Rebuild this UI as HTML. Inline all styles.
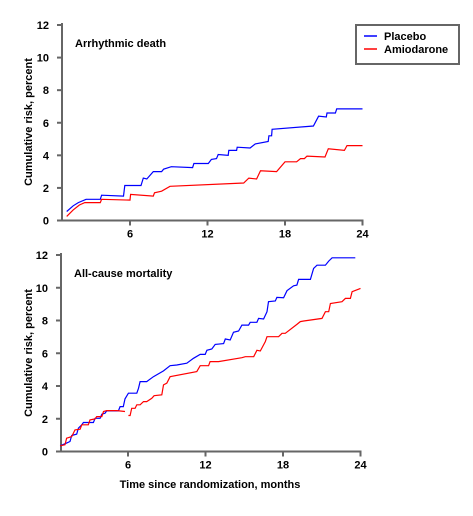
<!DOCTYPE html>
<html><head><meta charset="utf-8"><style>
body{margin:0;background:#fff}
svg text{font-family:"Liberation Sans",sans-serif;font-weight:bold;font-size:11px;fill:#000}
</style></head><body>
<svg id="c" width="473" height="511" xmlns="http://www.w3.org/2000/svg"></svg>
<script>
const xTicks=[6,12,18,24];
const yTicks=[0,2,4,6,8,10,12];
const arrPlaceboMonths=[1.1,1.6,2.0,2.6,3.7,3.8,5.5,5.6,6.85,7.03,7.3,7.8,8.45,8.6,9.2,10.85,10.95,12.06,12.3,12.7,12.83,13.6,13.65,14.25,14.3,15.3,15.7,16.7,16.75,16.96,17.0,20.2,20.6,21.2,21.25,21.9,22.0,24.0];
const arrPlaceboValues=[0.55,0.9,1.1,1.3,1.3,1.55,1.5,2.15,2.15,2.6,2.55,3.0,3.0,3.15,3.3,3.25,3.5,3.5,3.75,3.8,4.05,4.0,4.3,4.3,4.5,4.45,4.7,4.85,5.2,5.2,5.6,5.8,6.4,6.35,6.6,6.6,6.85,6.85];
const arrAmioMonths=[1.1,1.6,2.08,2.5,3.7,3.8,6.0,6.05,7.8,7.9,8.45,9.1,14.8,15.2,15.8,16.1,17.35,18.0,18.9,19.2,19.5,19.7,21.1,21.35,22.6,22.8,24.0];
const arrAmioValues=[0.25,0.65,0.95,1.1,1.1,1.3,1.25,1.6,1.5,1.7,1.8,2.1,2.3,2.6,2.55,3.05,3.0,3.6,3.6,3.8,3.8,3.95,3.9,4.4,4.3,4.6,4.6];
const allPlaceboMonths=[0.74,1.25,1.51,1.64,2.03,2.16,2.42,2.55,3.32,3.45,3.84,3.97,4.22,4.35,5.26,5.39,5.64,5.77,6.03,6.68,6.81,6.94,7.45,7.97,8.75,9.26,9.78,10.55,11.07,11.59,11.98,12.11,12.49,12.75,13.4,13.53,13.91,14.17,14.56,14.82,15.34,15.46,15.98,16.11,16.5,16.76,16.88,17.4,17.53,18.05,18.31,18.82,19.08,19.21,20.12,20.37,20.63,21.28,21.54,21.8,23.6];
const allPlaceboValues=[0.35,0.51,0.61,0.98,1.06,1.42,1.63,1.77,1.77,2.03,2.03,2.28,2.34,2.48,2.48,2.74,2.74,3.21,3.56,3.56,3.86,4.27,4.27,4.57,4.92,5.24,5.28,5.39,5.69,5.93,5.93,6.18,6.26,6.54,6.59,6.87,6.81,7.28,7.36,7.72,7.72,7.89,7.89,8.13,8.09,8.54,9.15,9.19,9.41,9.39,9.82,10.12,10.16,10.51,10.51,11.18,11.38,11.38,11.63,11.83,11.83];
const allAmioMonths=[0.74,1.12,1.25,1.64,1.9,2.29,2.42,2.93,3.06,3.45,3.58,3.97,4.1,4.35,5.13,5.77,null,6.03,6.16,6.29,6.55,6.68,6.94,7.2,7.45,7.84,8.02,8.62,8.75,9.0,9.26,11.33,11.59,12.24,12.36,13.01,14.82,15.08,15.73,15.98,16.24,16.63,16.76,17.66,17.92,18.18,19.08,19.34,19.6,21.02,21.28,21.54,21.67,22.57,22.83,23.22,23.35,24.0];
const allAmioValues=[0.35,0.41,0.81,0.91,1.32,1.36,1.63,1.63,1.93,1.99,2.13,2.13,2.44,2.5,2.5,2.44,null,2.2,2.2,2.64,2.64,2.85,2.85,3.05,3.05,3.25,3.41,3.46,4.07,4.17,4.57,4.88,5.24,5.24,5.49,5.49,5.73,5.79,5.79,6.18,6.14,6.71,7.01,7.01,7.22,7.22,7.76,7.93,7.97,8.13,8.54,8.54,9.04,9.15,9.35,9.35,9.76,9.96,10.0,9.92];
const NS="http://www.w3.org/2000/svg",svg=document.getElementById('c');
function mk(t,a,txt){const e=document.createElementNS(NS,t);for(const k in a)e.setAttribute(k,a[k]);if(txt!==undefined)e.textContent=txt;svg.appendChild(e);return e;}
function panel(name,x0,xStart,top,bottom,title,series){
  const sx=m=>x0+m*(310/24), sy=v=>bottom-v*(bottom-top)/12;
  let e=mk('line',{x1:xStart,y1:top-2,x2:xStart,y2:bottom,stroke:'#666','stroke-width':2});
  
  e=mk('line',{x1:xStart,y1:bottom,x2:sx(24)+1,y2:bottom,stroke:'#666','stroke-width':2});
  
  yTicks.forEach(v=>{mk('line',{x1:xStart-5,y1:sy(v),x2:xStart,y2:sy(v),stroke:'#666','stroke-width':2});
    e=mk('text',{x:xStart-13,y:sy(v)+4,'text-anchor':'end'},v);
    });
  xTicks.forEach(m=>{mk('line',{x1:sx(m),y1:bottom,x2:sx(m),y2:bottom+5,stroke:'#666','stroke-width':2});
    e=mk('text',{x:sx(m),y:bottom+17,'text-anchor':'middle'},m);
    });
  e=mk('text',{x:xStart+13,y:top+22},title);
  
  series.forEach(s=>{let d='',pen=false;
    s.m.forEach((m,i)=>{if(m===null){pen=false;return;}d+=(pen?'L':'M')+sx(m).toFixed(1)+','+sy(s.v[i]).toFixed(1);pen=true;});
    const p=mk('path',{d:d,fill:'none',stroke:s.c,'stroke-width':1.2});
    });
}
panel('arrhythmic',52.5,62,25,220.5,'Arrhythmic death',[{m:arrPlaceboMonths,v:arrPlaceboValues,c:'#0000ff',n:'placebo'},{m:arrAmioMonths,v:arrAmioValues,c:'#ff0000',n:'amiodarone'}]);
panel('all-cause',50.5,61,255,451.5,'All-cause mortality',[{m:allPlaceboMonths,v:allPlaceboValues,c:'#0000ff',n:'placebo'},{m:allAmioMonths,v:allAmioValues,c:'#ff0000',n:'amiodarone'}]);
let e=mk('text',{x:210,y:488,'text-anchor':'middle'},'Time since randomization, months');

[122,353].forEach(cy=>{e=mk('text',{x:0,y:0,'text-anchor':'middle',transform:'translate(32,'+cy+') rotate(-90)'},'Cumulative risk, percent');
});
e=mk('rect',{x:356,y:25,width:103,height:39,fill:'#fff',stroke:'#666','stroke-width':2});

mk('line',{x1:364,y1:36,x2:377,y2:36,stroke:'#0000ff','stroke-width':1.5});
e=mk('text',{x:384,y:40},'Placebo');

mk('line',{x1:364,y1:49,x2:377,y2:49,stroke:'#ff0000','stroke-width':1.5});
e=mk('text',{x:384,y:53},'Amiodarone');

</script>
</body></html>
